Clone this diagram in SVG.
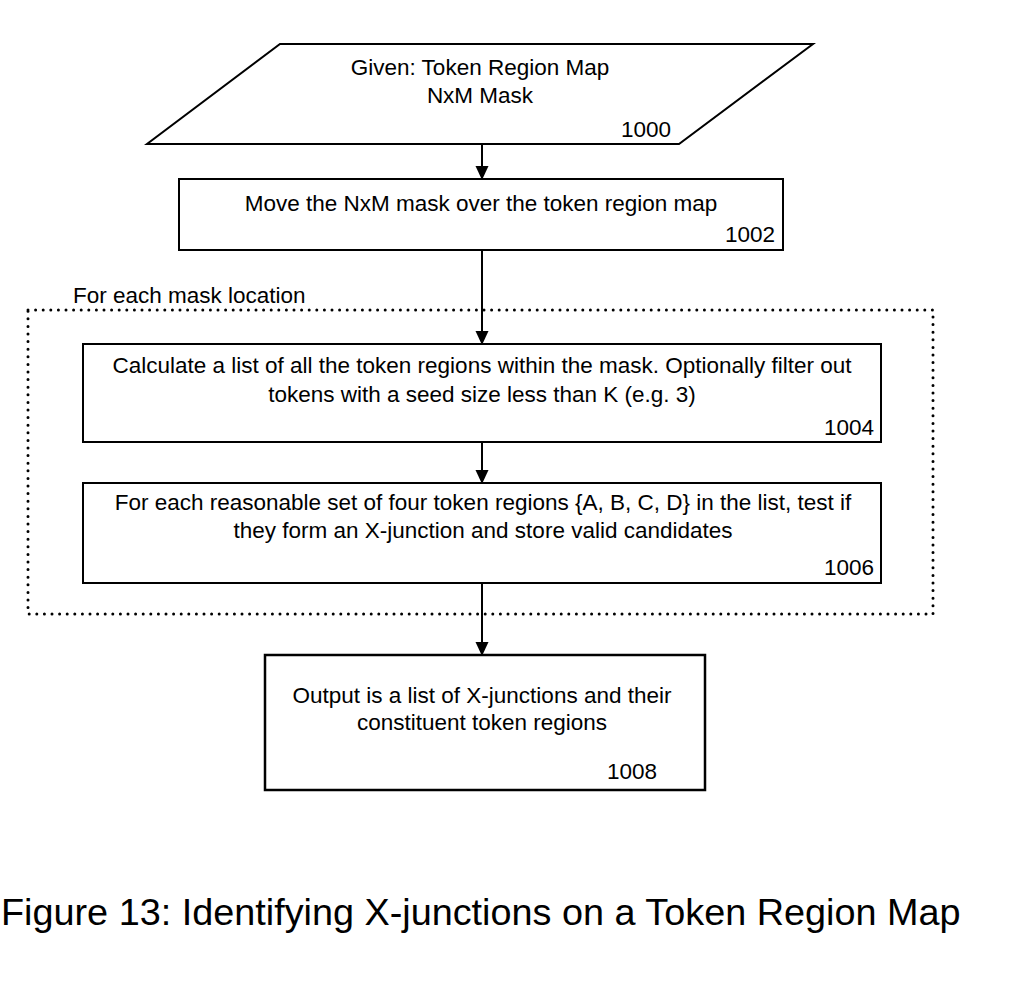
<svg xmlns="http://www.w3.org/2000/svg" width="1010" height="993" viewBox="0 0 1010 993">
<defs>
<marker id="ah" markerWidth="14" markerHeight="15" refX="14" refY="7" orient="auto" markerUnits="userSpaceOnUse" viewBox="0 0 15 14">
<path d="M0,0 L15,7 L0,14 Z" fill="#000"/>
</marker>
<style>
text{font-family:"Liberation Sans",Arial,sans-serif;font-size:22.5px;fill:#000}
.c{text-anchor:middle}
.r{text-anchor:end}
.shape{fill:#fff;stroke:#000;stroke-width:2}
.conn{stroke:#000;stroke-width:2;fill:none;marker-end:url(#ah)}
.loop{fill:none;stroke:#000;stroke-width:3;stroke-linecap:round;stroke-dasharray:0 7.6}
</style>
</defs>
<rect width="1010" height="993" fill="#fff"/>
<g id="loop">
<rect class="loop" x="28" y="310" width="905" height="304"/>
<text x="73" y="303">For each mask location</text>
</g>
<g id="n1000">
<polygon class="shape" points="280,44 813,44 679,144 147,144"/>
<text class="c" x="480" y="75">Given: Token Region Map</text>
<text class="c" x="480" y="103">NxM Mask</text>
<text class="r" x="671" y="137">1000</text>
</g>
<g id="n1002">
<rect class="shape" x="179" y="179" width="604" height="71"/>
<text class="c" x="481" y="211">Move the NxM mask over the token region map</text>
<text class="r" x="775" y="242">1002</text>
</g>
<g id="n1004">
<rect class="shape" x="83" y="344" width="798" height="98"/>
<text class="c" x="482" y="373">Calculate a list of all the token regions within the mask. Optionally filter out</text>
<text class="c" x="482" y="402">tokens with a seed size less than K (e.g. 3)</text>
<text class="r" x="874" y="435">1004</text>
</g>
<g id="n1006">
<rect class="shape" x="83" y="483" width="798" height="100"/>
<text class="c" x="483" y="510">For each reasonable set of four token regions {A, B, C, D} in the list, test if</text>
<text class="c" x="483" y="538">they form an X-junction and store valid candidates</text>
<text class="r" x="874" y="575">1006</text>
</g>
<g id="n1008">
<rect class="shape" x="265" y="655" width="440" height="135" style="stroke-width:2.5"/>
<text class="c" x="482" y="703">Output is a list of X-junctions and their</text>
<text class="c" x="482" y="730">constituent token regions</text>
<text class="r" x="657" y="779">1008</text>
</g>
<g id="connectors">
<line class="conn" x1="482" y1="144" x2="482" y2="179"/>
<line class="conn" x1="482" y1="250" x2="482" y2="344"/>
<line class="conn" x1="482" y1="442" x2="482" y2="483"/>
<line class="conn" x1="482" y1="583" x2="482" y2="655"/>
</g>
<text x="1" y="925" style="font-size:37.8px">Figure 13: Identifying X-junctions on a Token Region Map</text>
</svg>
